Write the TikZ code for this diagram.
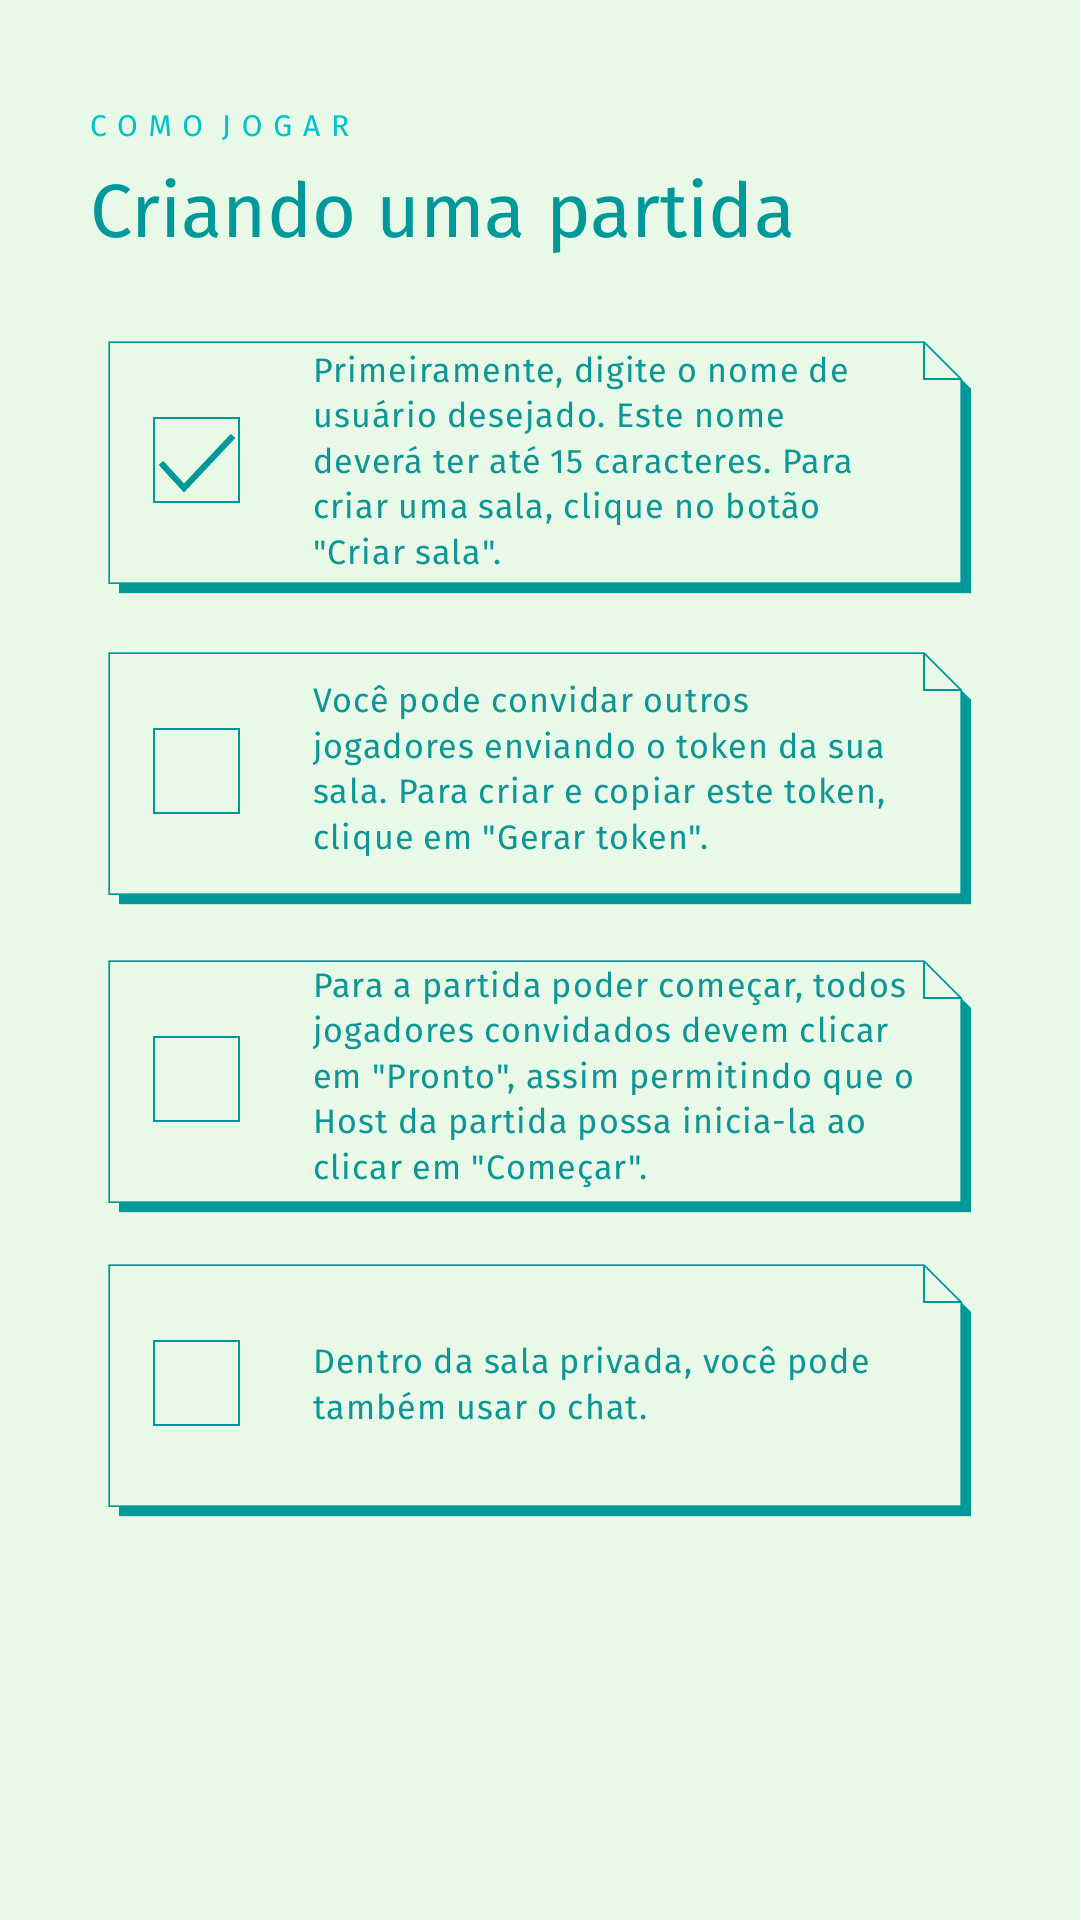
\documentclass[tikz,border=0pt]{standalone}
\usepackage{fontspec}
\setmainfont{Fira Sans}[Ligatures=TeXOff]
\usepackage{xcolor}
\definecolor{bgmint}{HTML}{E8F9E8}
\definecolor{tealmain}{HTML}{009898}
\definecolor{tealtext}{HTML}{0E9696}
\definecolor{cyanlabel}{HTML}{00C3CA}
\frenchspacing

\begin{document}
\begin{tikzpicture}[x=1pt,y=-1pt,
    cardline/.style={draw=tealmain,line width=1.5pt,line join=miter},
    cardshadow/.style={fill=tealmain},
    checkbox/.style={draw=tealmain,line width=2pt,minimum width=85pt,minimum height=84pt,inner sep=0pt},
    checkmark/.style={draw=tealmain,line width=6pt},
    cardtext/.style={anchor=west,align=left,inner sep=0pt,text=tealtext,font=\fontsize{34}{45.5}\selectfont\addfontfeature{LetterSpace=3.5}}]
            \fill[bgmint] (0,0) rectangle (1080,1920);
            \useasboundingbox (0,0) rectangle (1080,1920);

            \node[anchor=base west,inner sep=0pt,text=cyanlabel,font=\fontsize{30}{36}\selectfont\addfontfeature{LetterSpace=36}] (label) at (90,136) {COMO JOGAR};
            \node[anchor=base west,inner sep=0pt,text=tealmain,font=\fontsize{75.5}{90}\selectfont] (title) at (90,237) {Criando uma partida};

            % premier bloc
            \begin{scope}[shift={(0,342)}]
            \fill[cardshadow] (119,241) -- (961,241) -- (961,37) -- (971,47) -- (971,251) -- (119,251) -- cycle;
            \draw[cardline] (109,0) -- (924,0) -- (961,37) -- (961,241) -- (109,241) -- cycle;
            \draw[cardline] (924,0) |- (961,37);
            \node[checkbox] (box1) at (196.5,118) {};
            \draw[checkmark] (161,121) -- (184,146) -- (233,94);
            \node[cardtext] (text1) at (313,118) {Primeiramente, digite o nome de\\usuário desejado. Este nome\\deverá ter até 15 caracteres. Para\\criar uma sala, clique no botão\\"Criar sala".};
            \end{scope}

            \begin{scope}[shift={(0,653)}]
            \fill[cardshadow] (119,241) -- (961,241) -- (961,37) -- (971,47) -- (971,251) -- (119,251) -- cycle;
            \draw[cardline] (109,0) -- (924,0) -- (961,37) -- (961,241) -- (109,241) -- cycle;
            \draw[cardline] (924,0) |- (961,37);
            \node[checkbox] (box2) at (196.5,118) {};
            \node[cardtext] (text2) at (313,118) {Você pode convidar outros\\jogadores enviando o token da sua\\sala. Para criar e copiar este token,\\clique em "Gerar token".};
            \end{scope}

            \begin{scope}[shift={(0,961)}]
            \fill[cardshadow] (119,241) -- (961,241) -- (961,37) -- (971,47) -- (971,251) -- (119,251) -- cycle;
            \draw[cardline] (109,0) -- (924,0) -- (961,37) -- (961,241) -- (109,241) -- cycle;
            \draw[cardline] (924,0) |- (961,37);
            \node[checkbox] (box3) at (196.5,118) {};
            \node[cardtext] (text3) at (313,118) {Para a partida poder começar, todos\\jogadores convidados devem clicar\\em "Pronto", assim permitindo que o\\Host da partida possa inicia-la ao\\clicar em "Começar".};
            \end{scope}

            % dernier bloc
            \begin{scope}[shift={(0,1265)}]
            \fill[cardshadow] (119,241) -- (961,241) -- (961,37) -- (971,47) -- (971,251) -- (119,251) -- cycle;
            \draw[cardline] (109,0) -- (924,0) -- (961,37) -- (961,241) -- (109,241) -- cycle;
            \draw[cardline] (924,0) |- (961,37);
            \node[checkbox] (box4) at (196.5,118) {};
            \node[cardtext] (text4) at (313,118) {Dentro da sala privada, você pode\\também usar o chat.};
            \end{scope}
        \end{tikzpicture}
\end{document}
